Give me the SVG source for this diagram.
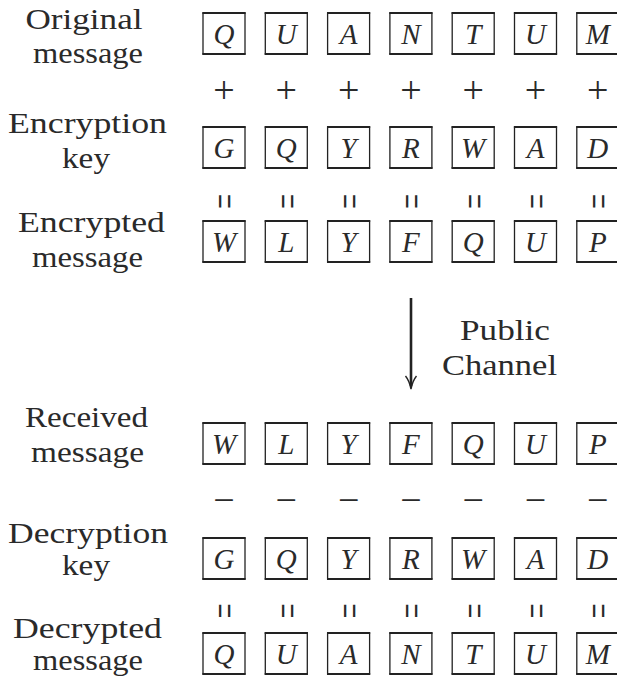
<svg xmlns="http://www.w3.org/2000/svg" width="617" height="682" viewBox="0 0 617 682" font-family="Liberation Serif, Times New Roman, serif">
<defs>
<style>
.lbl{font-size:29px;fill:#2a2a2a;text-anchor:middle}
.ch{font-style:italic;font-size:29px;fill:#2a2a2a;text-anchor:middle}
.op{font-size:38px;fill:#2a2a2a;text-anchor:middle}
.eq{font-size:20px;fill:#2a2a2a;text-anchor:middle}
.box{fill:#fff;stroke:#222;stroke-width:1.3}
.edge{stroke:#222;stroke-width:2.2}
</style>
<g id="cell"><rect class="box" x="-21" y="0" width="42" height="41"/><line class="edge" x1="-21.6" y1="0" x2="21.6" y2="0"/><line class="edge" x1="-21.6" y1="41" x2="21.6" y2="41"/></g>
</defs>
<rect width="617" height="682" fill="#fff"/>

<g id="labels">
<text class="lbl" x="84" y="29" textLength="117" lengthAdjust="spacingAndGlyphs">Original</text>
<text class="lbl" x="88" y="63" textLength="110" lengthAdjust="spacingAndGlyphs">message</text>
<text class="lbl" x="87.5" y="133" textLength="159" lengthAdjust="spacingAndGlyphs">Encryption</text>
<text class="lbl" x="86" y="168" textLength="48" lengthAdjust="spacingAndGlyphs">key</text>
<text class="lbl" x="91.5" y="232" textLength="147" lengthAdjust="spacingAndGlyphs">Encrypted</text>
<text class="lbl" x="87.5" y="267" textLength="111" lengthAdjust="spacingAndGlyphs">message</text>
<text class="lbl" x="86.5" y="427" textLength="123" lengthAdjust="spacingAndGlyphs">Received</text>
<text class="lbl" x="87.5" y="462" textLength="113" lengthAdjust="spacingAndGlyphs">message</text>
<text class="lbl" x="88" y="543" textLength="160" lengthAdjust="spacingAndGlyphs">Decryption</text>
<text class="lbl" x="86" y="575" textLength="48" lengthAdjust="spacingAndGlyphs">key</text>
<text class="lbl" x="87.5" y="638" textLength="149" lengthAdjust="spacingAndGlyphs">Decrypted</text>
<text class="lbl" x="88" y="670" textLength="110" lengthAdjust="spacingAndGlyphs">message</text>
</g>

<g id="row-original">
<g id="o1" transform="translate(224,13)"><use href="#cell"/><text class="ch" x="0" y="30.5">Q</text></g>
<g id="o2" transform="translate(286.3,13)"><use href="#cell"/><text class="ch" x="0" y="30.5">U</text></g>
<g id="o3" transform="translate(348.6,13)"><use href="#cell"/><text class="ch" x="0" y="30.5">A</text></g>
<g id="o4" transform="translate(410.9,13)"><use href="#cell"/><text class="ch" x="0" y="30.5">N</text></g>
<g id="o5" transform="translate(473.2,13)"><use href="#cell"/><text class="ch" x="0" y="30.5">T</text></g>
<g id="o6" transform="translate(535.5,13)"><use href="#cell"/><text class="ch" x="0" y="30.5">U</text></g>
<g id="o7" transform="translate(597.8,13)"><use href="#cell"/><text class="ch" x="0" y="30.5">M</text></g>
</g>

<g id="plus-ops">
<text class="op" x="224" y="103">+</text>
<text class="op" x="286.3" y="103">+</text>
<text class="op" x="348.6" y="103">+</text>
<text class="op" x="410.9" y="103">+</text>
<text class="op" x="473.2" y="103">+</text>
<text class="op" x="535.5" y="103">+</text>
<text class="op" x="597.8" y="103">+</text>
</g>

<g id="row-enckey">
<g id="k1" transform="translate(224,127)"><use href="#cell"/><text class="ch" x="0" y="30.5">G</text></g>
<g id="k2" transform="translate(286.3,127)"><use href="#cell"/><text class="ch" x="0" y="30.5">Q</text></g>
<g id="k3" transform="translate(348.6,127)"><use href="#cell"/><text class="ch" x="0" y="30.5">Y</text></g>
<g id="k4" transform="translate(410.9,127)"><use href="#cell"/><text class="ch" x="0" y="30.5">R</text></g>
<g id="k5" transform="translate(473.2,127)"><use href="#cell"/><text class="ch" x="0" y="30.5">W</text></g>
<g id="k6" transform="translate(535.5,127)"><use href="#cell"/><text class="ch" x="0" y="30.5">A</text></g>
<g id="k7" transform="translate(597.8,127)"><use href="#cell"/><text class="ch" x="0" y="30.5">D</text></g>
</g>

<g id="eq-ops-1">
<text class="eq" transform="translate(224,201.5) rotate(-90) scale(1.3,2.2)" x="0" y="7">=</text>
<text class="eq" transform="translate(286.3,201.5) rotate(-90) scale(1.3,2.2)" x="0" y="7">=</text>
<text class="eq" transform="translate(348.6,201.5) rotate(-90) scale(1.3,2.2)" x="0" y="7">=</text>
<text class="eq" transform="translate(410.9,201.5) rotate(-90) scale(1.3,2.2)" x="0" y="7">=</text>
<text class="eq" transform="translate(473.2,201.5) rotate(-90) scale(1.3,2.2)" x="0" y="7">=</text>
<text class="eq" transform="translate(535.5,201.5) rotate(-90) scale(1.3,2.2)" x="0" y="7">=</text>
<text class="eq" transform="translate(597.8,201.5) rotate(-90) scale(1.3,2.2)" x="0" y="7">=</text>
</g>

<g id="row-encrypted">
<g id="e1" transform="translate(224,221)"><use href="#cell"/><text class="ch" x="0" y="30.5">W</text></g>
<g id="e2" transform="translate(286.3,221)"><use href="#cell"/><text class="ch" x="0" y="30.5">L</text></g>
<g id="e3" transform="translate(348.6,221)"><use href="#cell"/><text class="ch" x="0" y="30.5">Y</text></g>
<g id="e4" transform="translate(410.9,221)"><use href="#cell"/><text class="ch" x="0" y="30.5">F</text></g>
<g id="e5" transform="translate(473.2,221)"><use href="#cell"/><text class="ch" x="0" y="30.5">Q</text></g>
<g id="e6" transform="translate(535.5,221)"><use href="#cell"/><text class="ch" x="0" y="30.5">U</text></g>
<g id="e7" transform="translate(597.8,221)"><use href="#cell"/><text class="ch" x="0" y="30.5">P</text></g>
</g>

<g id="connectors">
<line x1="411" y1="298" x2="411" y2="386" stroke="#222" stroke-width="2.6"/>
<path d="M405.5,376 Q409.5,381 411,389 Q412.5,381 416.5,376" fill="none" stroke="#222" stroke-width="1.4"/>
</g>
<g id="channel-label">
<text class="lbl" x="505" y="340" textLength="90" lengthAdjust="spacingAndGlyphs">Public</text>
<text class="lbl" x="499.5" y="375" textLength="115" lengthAdjust="spacingAndGlyphs">Channel</text>
</g>

<g id="row-received">
<g id="r1" transform="translate(224,423)"><use href="#cell"/><text class="ch" x="0" y="30.5">W</text></g>
<g id="r2" transform="translate(286.3,423)"><use href="#cell"/><text class="ch" x="0" y="30.5">L</text></g>
<g id="r3" transform="translate(348.6,423)"><use href="#cell"/><text class="ch" x="0" y="30.5">Y</text></g>
<g id="r4" transform="translate(410.9,423)"><use href="#cell"/><text class="ch" x="0" y="30.5">F</text></g>
<g id="r5" transform="translate(473.2,423)"><use href="#cell"/><text class="ch" x="0" y="30.5">Q</text></g>
<g id="r6" transform="translate(535.5,423)"><use href="#cell"/><text class="ch" x="0" y="30.5">U</text></g>
<g id="r7" transform="translate(597.8,423)"><use href="#cell"/><text class="ch" x="0" y="30.5">P</text></g>
</g>

<g id="minus-ops">
<text class="op" x="224" y="513">−</text>
<text class="op" x="286.3" y="513">−</text>
<text class="op" x="348.6" y="513">−</text>
<text class="op" x="410.9" y="513">−</text>
<text class="op" x="473.2" y="513">−</text>
<text class="op" x="535.5" y="513">−</text>
<text class="op" x="597.8" y="513">−</text>
</g>

<g id="row-deckey">
<g id="d1" transform="translate(224,538)"><use href="#cell"/><text class="ch" x="0" y="30.5">G</text></g>
<g id="d2" transform="translate(286.3,538)"><use href="#cell"/><text class="ch" x="0" y="30.5">Q</text></g>
<g id="d3" transform="translate(348.6,538)"><use href="#cell"/><text class="ch" x="0" y="30.5">Y</text></g>
<g id="d4" transform="translate(410.9,538)"><use href="#cell"/><text class="ch" x="0" y="30.5">R</text></g>
<g id="d5" transform="translate(473.2,538)"><use href="#cell"/><text class="ch" x="0" y="30.5">W</text></g>
<g id="d6" transform="translate(535.5,538)"><use href="#cell"/><text class="ch" x="0" y="30.5">A</text></g>
<g id="d7" transform="translate(597.8,538)"><use href="#cell"/><text class="ch" x="0" y="30.5">D</text></g>
</g>

<g id="eq-ops-2">
<text class="eq" transform="translate(224,611) rotate(-90) scale(1.3,2.2)" x="0" y="7">=</text>
<text class="eq" transform="translate(286.3,611) rotate(-90) scale(1.3,2.2)" x="0" y="7">=</text>
<text class="eq" transform="translate(348.6,611) rotate(-90) scale(1.3,2.2)" x="0" y="7">=</text>
<text class="eq" transform="translate(410.9,611) rotate(-90) scale(1.3,2.2)" x="0" y="7">=</text>
<text class="eq" transform="translate(473.2,611) rotate(-90) scale(1.3,2.2)" x="0" y="7">=</text>
<text class="eq" transform="translate(535.5,611) rotate(-90) scale(1.3,2.2)" x="0" y="7">=</text>
<text class="eq" transform="translate(597.8,611) rotate(-90) scale(1.3,2.2)" x="0" y="7">=</text>
</g>

<g id="row-decrypted">
<g id="m1" transform="translate(224,633)"><use href="#cell"/><text class="ch" x="0" y="30.5">Q</text></g>
<g id="m2" transform="translate(286.3,633)"><use href="#cell"/><text class="ch" x="0" y="30.5">U</text></g>
<g id="m3" transform="translate(348.6,633)"><use href="#cell"/><text class="ch" x="0" y="30.5">A</text></g>
<g id="m4" transform="translate(410.9,633)"><use href="#cell"/><text class="ch" x="0" y="30.5">N</text></g>
<g id="m5" transform="translate(473.2,633)"><use href="#cell"/><text class="ch" x="0" y="30.5">T</text></g>
<g id="m6" transform="translate(535.5,633)"><use href="#cell"/><text class="ch" x="0" y="30.5">U</text></g>
<g id="m7" transform="translate(597.8,633)"><use href="#cell"/><text class="ch" x="0" y="30.5">M</text></g>
</g>
</svg>
